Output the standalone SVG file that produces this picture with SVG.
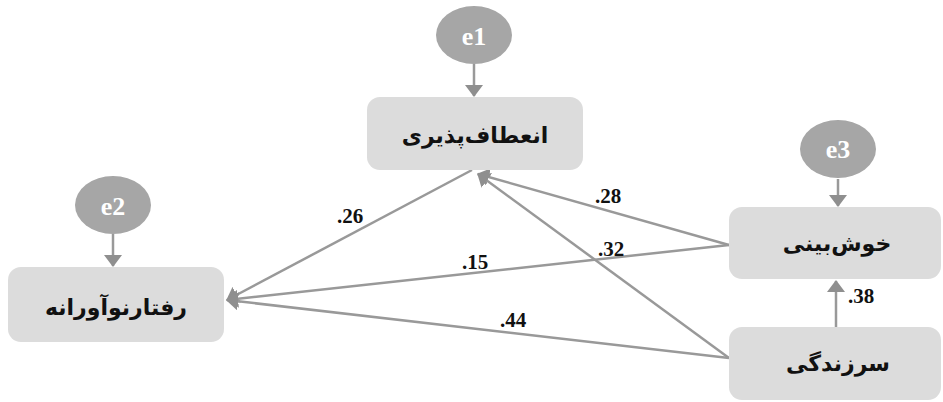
<svg xmlns="http://www.w3.org/2000/svg" width="943" height="402" viewBox="0 0 943 402">
<style>
.box{fill:#dcdcdc}
.err{fill:#a6a6a6}
.et{font-family:"Liberation Serif","Times New Roman",serif;font-weight:bold;font-size:26px;fill:#ffffff;text-anchor:middle}
.nt{font-family:"DejaVu Sans",sans-serif;font-weight:bold;font-size:22px;fill:#111111;text-anchor:middle}
.lab{font-family:"Liberation Serif","Times New Roman",serif;font-weight:bold;font-size:21px;fill:#111111;text-anchor:middle}
.con{stroke:#999999;stroke-width:2.5;fill:none;marker-end:url(#ah)}
</style>
<defs>
<marker id="ah" markerUnits="userSpaceOnUse" viewBox="0 0 12 18" refX="11" refY="9" markerWidth="12" markerHeight="18" orient="auto">
<path d="M0,0 L12,9 L0,18 z" fill="#8f8f8f"/>
</marker>
</defs>
<g id="connectors">
<line class="con" x1="474" y1="64" x2="474" y2="96"/>
<line class="con" x1="113" y1="234" x2="113" y2="266"/>
<line class="con" x1="838" y1="179" x2="838" y2="206"/>
<line class="con" x1="836" y1="327" x2="836" y2="281"/>
<line class="con" x1="472" y1="170" x2="227" y2="300"/>
<line class="con" x1="729" y1="245" x2="478" y2="174"/>
<line class="con" x1="729" y1="358" x2="478" y2="174"/>
<line class="con" x1="729" y1="245" x2="227" y2="300"/>
<line class="con" x1="729" y1="358" x2="227" y2="300"/>
</g>
<g id="labels">
<text class="lab" x="350" y="223">.26</text>
<text class="lab" x="608" y="203">.28</text>
<text class="lab" x="611" y="256">.32</text>
<text class="lab" x="475" y="269">.15</text>
<text class="lab" x="513" y="327">.44</text>
<text class="lab" x="861" y="303">.38</text>
</g>
<g id="e1"><ellipse class="err" cx="474" cy="35" rx="38" ry="29"/><text class="et" x="474" y="45">e1</text></g>
<g id="e2"><ellipse class="err" cx="113" cy="205" rx="38" ry="29"/><text class="et" x="113" y="215">e2</text></g>
<g id="e3"><ellipse class="err" cx="838" cy="149" rx="38" ry="29"/><text class="et" x="838" y="158">e3</text></g>
<g id="n_flex"><rect class="box" x="367" y="97" width="216" height="73" rx="13"/><text class="nt" x="475" y="143">انعطاف‌پذیری</text></g>
<g id="n_innov"><rect class="box" x="8" y="267" width="216" height="75" rx="13"/><text class="nt" x="116" y="315">رفتارنوآورانه</text></g>
<g id="n_opt"><rect class="box" x="729" y="207" width="212" height="72" rx="13"/><text class="nt" x="837" y="251">خوش‌بینی</text></g>
<g id="n_vital"><rect class="box" x="729" y="327" width="212" height="73" rx="13"/><text class="nt" x="838" y="371">سرزندگی</text></g>
</svg>
